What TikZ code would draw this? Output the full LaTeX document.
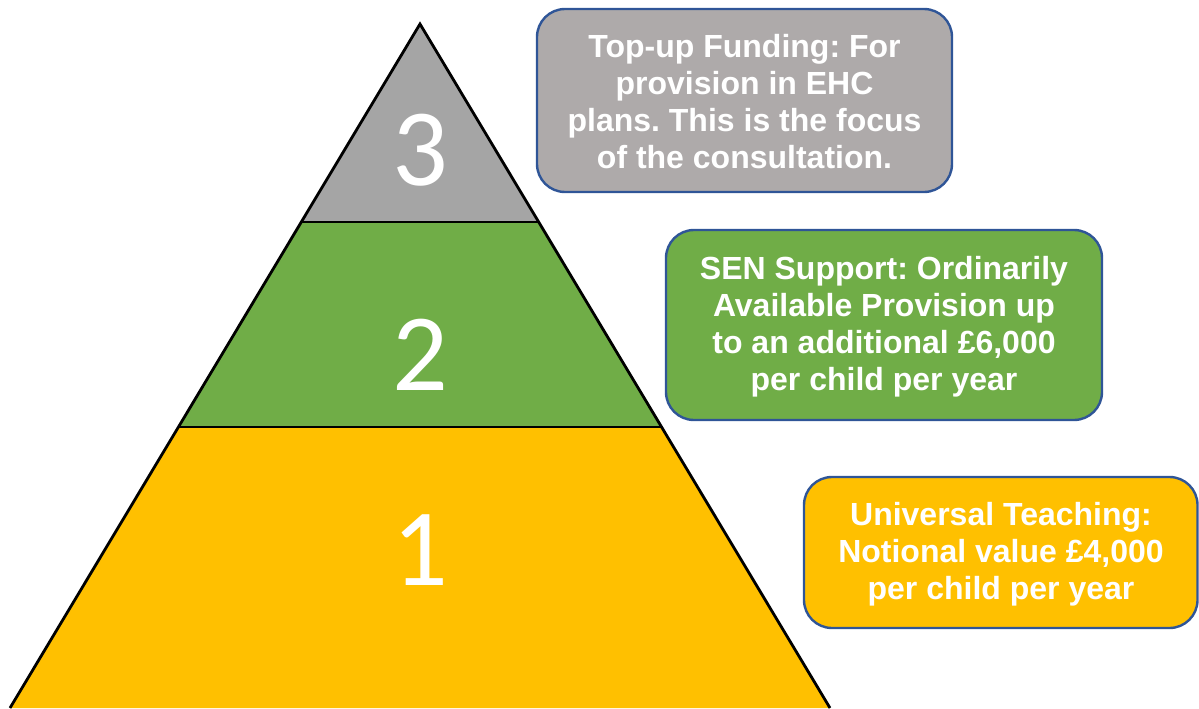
\documentclass[tikz,border=0pt]{standalone}
\usepackage{fontspec}
\setmainfont{Liberation Sans}
\newfontfamily\boxfont{Liberation Sans Bold}
\newfontfamily\numfont{Carlito}
\definecolor{pgray}{HTML}{A5A5A5}
\definecolor{bgray}{HTML}{AEAAAA}
\definecolor{pgreen}{HTML}{70AD47}
\definecolor{pyellow}{HTML}{FFC000}
\definecolor{bblue}{HTML}{2F5597}
\begin{document}
\frenchspacing
\begin{tikzpicture}[x=1pt,y=-1pt,
  layer/.style={draw=black,line width=2.8pt,line join=miter},
  num/.style={text=white,font=\numfont\fontsize{110}{110}\selectfont,inner sep=0pt},
  infobox/.style={draw=bblue,line width=2.4pt,rounded corners=28pt},
  infotext/.style={text=white,font=\boxfont\fontsize{32}{37}\selectfont,align=center,inner sep=0pt},
]
\useasboundingbox (0,0) rectangle (1199,709);
% pyramid layers
\fill[pyellow] (178.4,427) -- (661.6,427) -- (830,708) -- (10,708) -- cycle;
\fill[pgreen] (301.3,222) -- (538.7,222) -- (661.6,427) -- (178.4,427) -- cycle;
\fill[pgray] (420,24) -- (538.7,222) -- (301.3,222) -- cycle;
\draw[layer] (10,708) -- (420,24) -- (830,708);
\draw[layer] (301.3,222) -- (538.7,222);
\draw[layer] (178.4,427) -- (661.6,427);
\node[num] (n3) at (420,150) {3};
\node[num] (n2) at (420,355) {2};
\node[num] (n1) at (420,550) {1};
% boxes
\draw[infobox,fill=bgray] (537,9) rectangle (952,192);
\node[infotext] (t3) at (744.5,102) {Top-up Funding: For\\provision in EHC\\plans. This is the focus\\of the consultation.};
\draw[infobox,fill=pgreen] (666,230) rectangle (1102,420);
\node[infotext] (t2) at (884,327) {SEN Support: Ordinarily\\Available Provision up\\to an additional £6,000\\per child per year};
\draw[infobox,fill=pyellow] (804,477) rectangle (1197.5,628);
\node[infotext] (t1) at (1001,554) {Universal Teaching:\\Notional value £4,000\\per child per year};
\end{tikzpicture}
\end{document}
